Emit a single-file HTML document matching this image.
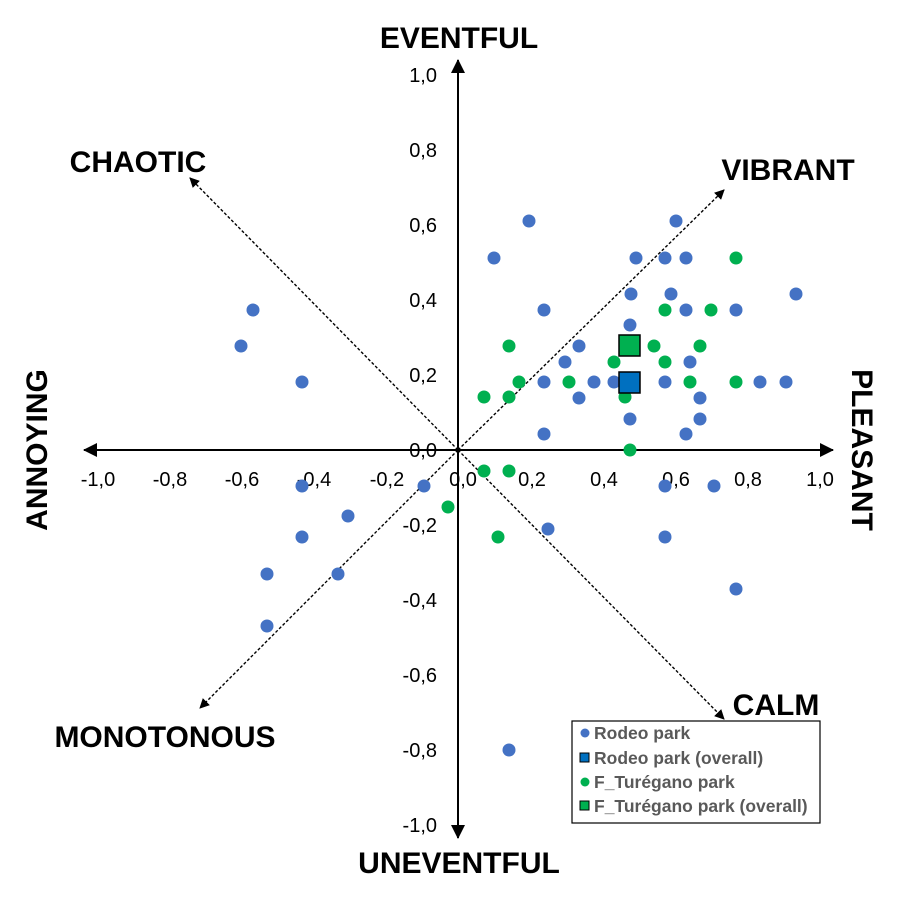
<!DOCTYPE html>
<html><head><style>body{margin:0;background:#fff}</style></head><body>
<svg width="900" height="896" xmlns="http://www.w3.org/2000/svg" font-family="Liberation Sans, Arial, sans-serif">
<defs>
<marker id="a" markerWidth="10" markerHeight="10" refX="9" refY="5" orient="auto" markerUnits="userSpaceOnUse"><path d="M0,0L10,5L0,10z" fill="#000"/></marker>
<marker id="b" markerWidth="14" markerHeight="14" refX="13" refY="7" orient="auto" markerUnits="userSpaceOnUse"><path d="M0,0L14,7L0,14z" fill="#000"/></marker>
</defs>
<g stroke="#000" stroke-width="1.4" stroke-dasharray="3,2" fill="none">
<line x1="458" y1="450" x2="190" y2="178" marker-end="url(#a)"/>
<line x1="458" y1="450" x2="724" y2="190" marker-end="url(#a)"/>
<line x1="458" y1="450" x2="200" y2="708" marker-end="url(#a)"/>
<line x1="458" y1="450" x2="724" y2="719" marker-end="url(#a)"/>
</g>
<g stroke="#000" stroke-width="2">
<line x1="458" y1="450" x2="833" y2="450" marker-end="url(#b)"/>
<line x1="458" y1="450" x2="84" y2="450" marker-end="url(#b)"/>
<line x1="458" y1="450" x2="458" y2="60" marker-end="url(#b)"/>
<line x1="458" y1="450" x2="458" y2="838" marker-end="url(#b)"/>
</g>
<g font-size="20" fill="#000" text-anchor="end">
<text x="437" y="82">1,0</text><text x="437" y="157">0,8</text><text x="437" y="232">0,6</text><text x="437" y="307">0,4</text><text x="437" y="382">0,2</text><text x="437" y="457">0,0</text><text x="437" y="532">-0,2</text><text x="437" y="607">-0,4</text><text x="437" y="682">-0,6</text><text x="437" y="757">-0,8</text><text x="437" y="832">-1,0</text>
</g>
<g font-size="20" fill="#000" text-anchor="middle">
<text x="98" y="486">-1,0</text><text x="170" y="486">-0,8</text><text x="242" y="486">-0,6</text><text x="314" y="486">-0,4</text><text x="387" y="486">-0,2</text><text x="463" y="486">0,0</text><text x="532" y="486">0,2</text><text x="604" y="486">0,4</text><text x="676" y="486">0,6</text><text x="748" y="486">0,8</text><text x="820" y="486">1,0</text>
</g>
<g font-size="30" font-weight="bold" fill="#000" text-anchor="middle">
<text x="459" y="48">EVENTFUL</text>
<text x="459" y="873">UNEVENTFUL</text>
<text x="138" y="172">CHAOTIC</text>
<text x="788" y="180">VIBRANT</text>
<text x="165" y="747">MONOTONOUS</text>
<text x="776" y="715">CALM</text>
<text transform="translate(47,450) rotate(-90)">ANNOYING</text>
<text transform="translate(852,450) rotate(90)">PLEASANT</text>
</g>
<g fill="#4472C4">
<circle cx="529" cy="221" r="6.5"/><circle cx="676" cy="221" r="6.5"/><circle cx="494" cy="258" r="6.5"/><circle cx="636" cy="258" r="6.5"/><circle cx="665" cy="258" r="6.5"/><circle cx="686" cy="258" r="6.5"/><circle cx="631" cy="294" r="6.5"/><circle cx="671" cy="294" r="6.5"/><circle cx="796" cy="294" r="6.5"/><circle cx="544" cy="310" r="6.5"/><circle cx="686" cy="310" r="6.5"/><circle cx="736" cy="310" r="6.5"/><circle cx="253" cy="310" r="6.5"/><circle cx="630" cy="325" r="6.5"/><circle cx="241" cy="346" r="6.5"/><circle cx="579" cy="346" r="6.5"/><circle cx="565" cy="362" r="6.5"/><circle cx="690" cy="362" r="6.5"/><circle cx="302" cy="382" r="6.5"/><circle cx="544" cy="382" r="6.5"/><circle cx="594" cy="382" r="6.5"/><circle cx="614" cy="382" r="6.5"/><circle cx="665" cy="382" r="6.5"/><circle cx="760" cy="382" r="6.5"/><circle cx="786" cy="382" r="6.5"/><circle cx="579" cy="398" r="6.5"/><circle cx="700" cy="398" r="6.5"/><circle cx="630" cy="419" r="6.5"/><circle cx="700" cy="419" r="6.5"/><circle cx="544" cy="434" r="6.5"/><circle cx="686" cy="434" r="6.5"/><circle cx="302" cy="486" r="6.5"/><circle cx="424" cy="486" r="6.5"/><circle cx="665" cy="486" r="6.5"/><circle cx="714" cy="486" r="6.5"/><circle cx="348" cy="516" r="6.5"/><circle cx="548" cy="529" r="6.5"/><circle cx="302" cy="537" r="6.5"/><circle cx="665" cy="537" r="6.5"/><circle cx="267" cy="574" r="6.5"/><circle cx="338" cy="574" r="6.5"/><circle cx="736" cy="589" r="6.5"/><circle cx="267" cy="626" r="6.5"/><circle cx="509" cy="750" r="6.5"/>
</g>
<g fill="#00B050">
<circle cx="736" cy="258" r="6.5"/><circle cx="665" cy="310" r="6.5"/><circle cx="711" cy="310" r="6.5"/><circle cx="509" cy="346" r="6.5"/><circle cx="654" cy="346" r="6.5"/><circle cx="700" cy="346" r="6.5"/><circle cx="614" cy="362" r="6.5"/><circle cx="665" cy="362" r="6.5"/><circle cx="519" cy="382" r="6.5"/><circle cx="569" cy="382" r="6.5"/><circle cx="690" cy="382" r="6.5"/><circle cx="736" cy="382" r="6.5"/><circle cx="484" cy="397" r="6.5"/><circle cx="509" cy="397" r="6.5"/><circle cx="625" cy="397" r="6.5"/><circle cx="630" cy="450" r="6.5"/><circle cx="484" cy="471" r="6.5"/><circle cx="509" cy="471" r="6.5"/><circle cx="448" cy="507" r="6.5"/><circle cx="498" cy="537" r="6.5"/>
</g>
<rect x="619" y="335" width="21" height="21" fill="#00B050" stroke="#000" stroke-width="1.5"/>
<rect x="619" y="372" width="21" height="21" fill="#0070C0" stroke="#000" stroke-width="1.5"/>
<rect x="572" y="721" width="248" height="102" fill="#fff" stroke="#000" stroke-width="1.2"/>
<g font-size="17.5" font-weight="bold" fill="#595959">
<circle cx="585" cy="733" r="4.5" fill="#4472C4"/><text x="594" y="739">Rodeo park</text>
<rect x="580" y="753" width="9" height="9" fill="#0070C0" stroke="#000"/><text x="594" y="764">Rodeo park (overall)</text>
<circle cx="585" cy="782" r="4.5" fill="#00B050"/><text x="594" y="788">F_Turégano park</text>
<rect x="580" y="801" width="9" height="9" fill="#00B050" stroke="#000"/><text x="594" y="812">F_Turégano park (overall)</text>
</g>
</svg>
</body></html>
